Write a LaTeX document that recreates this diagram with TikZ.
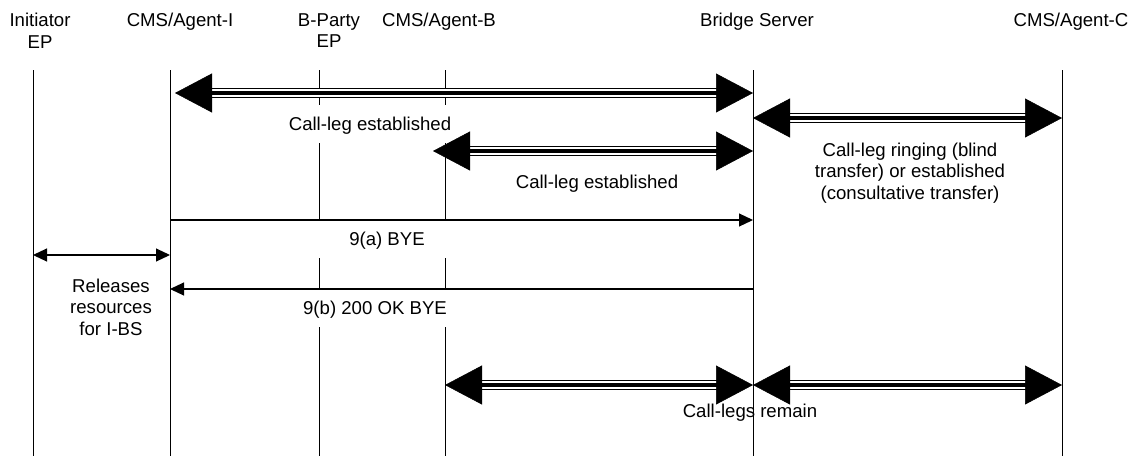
\documentclass[tikz,border=0pt]{standalone}
\usepackage{fontspec}
\setmainfont{Liberation Sans}
\usetikzlibrary{arrows.meta}

\tikzset{
  head/.style={align=center, inner sep=0pt, anchor=north, font=\fontsize{18.6}{21.6}\selectfont},
  lbl/.style={align=center, inner sep=0pt, font=\fontsize{18.6}{21.6}\selectfont},
  gaplbl/.style={lbl, fill=white, text height=13.4pt, text depth=0pt},
  life/.style={line width=1pt},
  leg/.style={draw=none,
    postaction={draw, line width=1.3pt, double=white, double distance=7.5pt, shorten <=20pt, shorten >=20pt},
    postaction={draw, line width=3.5pt, shorten <=20pt, shorten >=20pt},
    postaction={draw, line width=0.5pt, {Triangle[length=37pt,width=39pt]}-{Triangle[length=37pt,width=39pt]}}},
  msg/.style={line width=1.1pt, -{Triangle[length=14pt,width=13pt]}},
}

\begin{document}
\begin{tikzpicture}[x=1pt,y=-1pt]
    \useasboundingbox (0,0) rectangle (1133,456);
    \begin{scope}[every node/.style={head}]
        \node (ini) at (40,13.3) {Initiator\\EP};
        \node (agi) at (180,13.3) {CMS/Agent-I};
        \node (bp) at (329,13.3) {B-Party\\EP};
        \node (agb) at (439,13.3) {CMS/Agent-B};
        \node (bs) at (757,13.3) {Bridge Server};
        \node (agc) at (1071,13.3) {CMS/Agent-C};
    \end{scope}
    \coordinate (iniL) at (33,70);
    \coordinate (agiL) at (170,70);
    \coordinate (bpL) at (319,70);
    \coordinate (agbL) at (445,70);
    \coordinate (bsL) at (753,70);
    \coordinate (agcL) at (1062,70);
    \coordinate (bot) at (0,456);
    \coordinate (y1) at (0,93);
    \coordinate (y2) at (0,118);
    \coordinate (y3) at (0,151);
    \coordinate (y4) at (0,220);
    \coordinate (y5) at (0,255);
    \coordinate (y6) at (0,289);
    \coordinate (y7) at (0,385);
    \foreach \a in {iniL,agiL,bpL,agbL,bsL,agcL}
        \draw[life] (\a) -- (\a |- bot);
    \begin{scope}[every node/.style={lbl}]
        \node[gaplbl, minimum width=180pt, minimum height=38pt] (estA) at (370,124) {Call-leg established};
        \node (estB) at (597,184) {Call-leg established};
        \node (ring) at (910,173) {Call-leg ringing (blind\\transfer) or established\\(consultative transfer)};
        \node[gaplbl, minimum width=200pt, minimum height=37pt] (bye) at (387,239) {9(a) BYE};
        \node[gaplbl, minimum width=180pt, minimum height=37pt] (ok) at (375,308) {9(b) 200 OK BYE};
        \node (rel) at (111,307) {Releases\\resources\\for I-BS};
        \node (remain) at (750,413) {Call-legs remain};
    \end{scope}
    \begin{scope}
        \path[leg] ([xshift=5pt]agiL |- y1) -- (bsL |- y1);
        \path[leg] (bsL |- y2) -- (agcL |- y2);
        \path[leg] ([xshift=-12pt]agbL |- y3) -- (bsL |- y3);
        \draw[msg] (agiL |- y4) -- (bsL |- y4);
        \draw[msg, {Triangle[length=14pt,width=13pt]}-{Triangle[length=14pt,width=13pt]}] (iniL |- y5) -- (agiL |- y5);
        \draw[msg] (bsL |- y6) -- (agiL |- y6);
        \path[leg] (agbL |- y7) -- (bsL |- y7);
        \path[leg] (bsL |- y7) -- (agcL |- y7);
    \end{scope}
\end{tikzpicture}
\end{document}
